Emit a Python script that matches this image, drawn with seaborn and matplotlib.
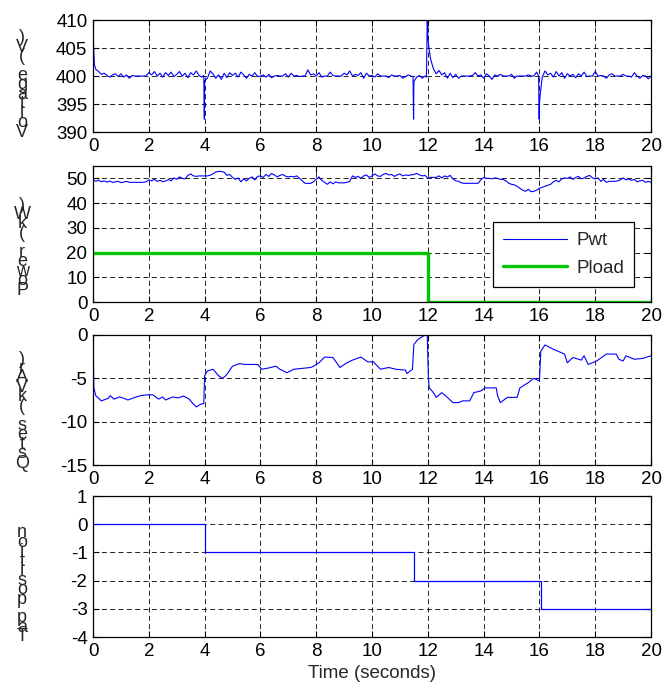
import numpy as np
import pandas as pd
import matplotlib
matplotlib.use('Agg')
import matplotlib.pyplot as plt
import seaborn as sns

# ---- data ----
time_grid = np.round(np.arange(0, 200.5, 1) / 10, 1)   # 0.0 .. 20.0 s, 0.1 s step

voltage = [
    410.0, 401.2, 400.8, 400.3, 400.5, 400.1, 399.8, 400.2, 400.4, 399.9,
    400.4, 399.8, 400.2, 399.6, 400.1, 400.0, 400.0, 400.0, 400.0, 400.0,
    400.6, 400.2, 400.8, 400.0, 400.5, 399.8, 400.6, 400.1, 400.7, 399.9,
    400.3, 400.8, 400.0, 400.5, 399.7, 400.6, 400.2, 400.9, 400.1, 399.8,
    399.2, 399.6, 400.9, 400.4, 399.6, 400.2, 399.4, 400.5, 399.7, 400.6,
    400.1, 400.5, 399.8, 400.7, 400.2, 399.6, 400.3, 400.0, 400.6, 399.9,
    400.0, 400.2, 399.8, 400.3, 399.7, 400.0, 400.1, 400.0, 400.0, 400.4,
    399.8, 400.5, 400.0, 400.1, 399.9, 400.0, 400.0, 401.1, 400.2, 400.4,
    400.0, 400.6, 399.8, 400.0, 400.0, 400.7, 400.1, 400.0, 400.0, 400.0,
    400.5, 400.2, 400.9, 400.0, 400.3, 400.1, 400.6, 399.6, 400.5, 400.0,
    400.1, 399.8, 400.4, 400.0, 400.0, 400.0, 399.7, 400.2, 400.0, 400.0,
    400.1, 399.6, 399.9, 400.2, 400.0, 399.0, 399.8, 400.1, 399.6, 400.0,
    407.0, 403.0, 401.3, 400.4, 401.0, 400.2, 400.6, 399.6, 400.5, 399.7,
    400.3, 399.6, 400.0, 400.0, 400.0, 400.0, 400.1, 400.6, 400.0, 400.2,
    399.6, 400.4, 400.0, 399.4, 400.2, 400.0, 400.3, 400.0, 400.0, 400.0,
    400.3, 399.6, 400.0, 400.0, 400.0, 400.0, 400.2, 400.0, 400.0, 400.7,
    395.0, 399.8, 400.9, 400.2, 400.5, 399.8, 400.8, 400.0, 400.6, 399.6,
    400.4, 400.0, 400.3, 399.7, 400.4, 400.0, 400.7, 399.9, 400.0, 400.0,
    400.8, 400.0, 400.1, 400.0, 399.6, 400.2, 400.4, 400.0, 400.0, 400.0,
    400.3, 400.0, 400.0, 399.8, 400.6, 400.0, 399.6, 400.1, 400.0, 399.5,
    400.0,
]
# fast transients between grid samples (tap changes / load step)
v_event_time = [0.02, 0.05, 3.97, 3.99, 11.47, 11.49, 11.95, 11.98, 12.04, 15.97, 15.99, 16.03]
v_event_volt = [405.5, 402.0, 400.1, 392.3, 399.9, 392.3, 399.8, 410.0, 405.0, 400.0, 392.3, 396.8]

pwt = [
    49.5, 48.8, 49.3, 48.6, 49.0, 48.5, 48.9, 48.4, 48.6, 48.8,
    48.3, 48.5, 48.8, 48.4, 48.4, 48.4, 48.4, 48.4, 48.4, 48.6,
    49.4, 49.0, 49.6, 48.8, 49.2, 48.7, 48.9, 49.5, 49.0, 50.2,
    49.6, 50.6, 50.0, 49.8, 51.2, 51.8, 51.0, 50.8, 51.0, 51.0,
    51.0, 51.0, 51.3, 51.8, 52.6, 52.8, 52.8, 52.5, 51.2, 51.6,
    50.4, 49.6, 50.2, 48.6, 49.8, 49.0, 50.0, 50.6, 49.4, 50.8,
    51.0, 50.4, 51.6, 50.8, 52.0, 51.4, 50.6, 51.2, 51.6, 50.9,
    50.6, 50.8, 50.6, 51.0, 50.0, 49.0, 48.0, 48.0, 48.0, 48.6,
    49.6, 50.6, 49.2, 48.4, 47.6, 48.6, 47.8, 48.6, 48.2, 48.2,
    48.2, 48.4, 48.8, 51.0, 50.4, 50.8, 50.0, 51.0, 51.4, 50.4,
    51.0, 51.8, 51.0, 50.8, 51.6, 52.0, 51.4, 51.6, 50.8, 51.4,
    51.8, 51.0, 51.4, 51.2, 51.4, 51.6, 52.0, 51.4, 51.0, 51.2,
    50.0, 50.4, 50.4, 50.4, 51.0, 50.2, 51.0, 50.6, 51.2, 49.8,
    49.0, 48.8, 48.2, 48.0, 48.0, 48.0, 48.0, 48.0, 48.0, 49.4,
    50.4, 50.0, 50.0, 49.8, 50.2, 50.0, 49.6, 49.6, 49.0, 48.0,
    47.6, 47.4, 46.8, 46.0, 45.2, 44.8, 45.6, 44.6, 44.8, 45.2,
    46.0, 46.4, 46.8, 47.2, 47.6, 48.6, 49.2, 48.6, 49.8, 50.2,
    50.0, 50.6, 49.6, 50.4, 50.8, 49.8, 50.2, 50.8, 51.2, 50.2,
    49.8, 50.2, 48.8, 49.6, 48.4, 48.8, 48.8, 48.8, 49.0, 49.4,
    50.2, 49.4, 49.8, 49.2, 49.6, 48.6, 49.0, 49.2, 48.4, 48.8,
    48.4,
]

pload_time = [0, 12, 20]
pload = [20, 0, 0]

q_time = [0.0, 0.03, 0.1, 0.3, 0.55, 0.62, 0.75, 0.95, 1.1, 1.25,
          1.5, 1.7, 1.95, 2.15, 2.35, 2.5, 2.6, 2.85, 3.05, 3.25,
          3.45, 3.55, 3.7, 3.85, 3.97, 4.0, 4.1, 4.3, 4.5, 4.65,
          4.8, 5.0, 5.25, 5.45, 5.9, 6.05, 6.3, 6.55, 6.7, 6.95,
          7.2, 7.8, 7.9, 8.1, 8.3, 8.6, 8.85, 9.1, 9.3, 9.6,
          9.85, 10.05, 10.3, 10.6, 10.85, 11.2, 11.25, 11.45, 11.5, 11.65,
          11.85, 11.98, 12.02, 12.05, 12.2, 12.3, 12.5, 12.7, 12.9, 13.1,
          13.25, 13.5, 13.65, 13.9, 14.05, 14.45, 14.5, 14.6, 14.85, 15.2,
          15.3, 15.6, 15.8, 16.0, 16.05, 16.2, 16.5, 16.9, 17.0, 17.2,
          17.5, 17.6, 17.75, 18.05, 18.4, 18.75, 18.85, 19.0, 19.1, 19.4,
          19.7, 20.0]
q_kvar = [0.0, -6.1, -7.0, -7.6, -7.3, -7.0, -7.4, -7.15, -7.3, -7.5,
          -7.2, -7.0, -6.9, -6.9, -7.4, -7.15, -7.5, -7.15, -7.25, -7.05,
          -7.4, -7.8, -8.3, -8.0, -7.9, -4.7, -4.15, -3.95, -4.7, -5.0,
          -4.55, -3.6, -3.3, -3.4, -3.4, -3.95, -3.8, -3.6, -3.95, -4.35,
          -3.95, -3.75, -3.6, -3.2, -2.55, -2.6, -3.75, -3.2, -2.9, -2.55,
          -3.1, -3.1, -3.95, -3.75, -3.95, -4.05, -4.45, -3.95, -1.1, -0.5,
          -0.1, 0.0, -4.9, -6.1, -6.65, -7.2, -6.65, -7.2, -7.8, -7.8,
          -7.6, -7.6, -6.65, -6.45, -6.1, -6.1, -7.0, -7.8, -7.2, -7.2,
          -6.1, -5.5, -5.0, -5.3, -1.85, -1.15, -1.65, -2.2, -3.2, -2.6,
          -2.9, -2.4, -3.4, -3.0, -2.2, -2.2, -2.8, -3.0, -2.4, -2.8,
          -2.7, -2.4]

tap_time = [0, 4, 11.5, 16.05, 20]
tap = [0, -1, -2, -3, -3]

ylabels = ['Voltage (V)', 'Power (kW)', 'Qstes (kVAr)', 'Tap position']

# ---- build frames ----
volt_df = pd.concat([
    pd.DataFrame({'t': time_grid, 'v': voltage}),
    pd.DataFrame({'t': v_event_time, 'v': v_event_volt}),
]).sort_values('t')

sns.set_theme(style='white')
plt.rcParams['font.family'] = ['Liberation Sans', 'DejaVu Sans']
plt.rcParams['axes.unicode_minus'] = False

fig = plt.figure(figsize=(6.72, 6.88), dpi=100)
left, width = 0.1384, 0.8304
rects = [
    [left, 0.8081, width, 0.1628],
    [left, 0.5610, width, 0.1977],
    [left, 0.3241, width, 0.1890],
    [left, 0.0741, width, 0.2049],
]
axes = [fig.add_axes(r) for r in rects]

blue = '#0000ff'
green = '#00c800'

sns.lineplot(data=volt_df, x='t', y='v', ax=axes[0], color=blue, lw=0.8,
             estimator=None, sort=False)
sns.lineplot(x=time_grid, y=pwt, ax=axes[1], color=blue, lw=0.8,
             estimator=None, label='Pwt')
sns.lineplot(x=pload_time, y=pload, ax=axes[1], color=green, lw=2.4,
             estimator=None, drawstyle='steps-post', label='Pload')
sns.lineplot(x=q_time, y=q_kvar, ax=axes[2], color=blue, lw=0.8,
             estimator=None)
sns.lineplot(x=tap_time, y=tap, ax=axes[3], color=blue, lw=0.9,
             estimator=None, drawstyle='steps-post')

ylims = [(390, 410), (0, 55), (-15, 0), (-4, 1)]
yticks = [np.arange(390, 411, 5), np.arange(0, 51, 10),
          np.arange(-15, 1, 5), np.arange(-4, 2, 1)]
label_y = [0.42, 0.40, 0.415, 0.37]

for ax, yl, yt, lab, ly in zip(axes, ylims, yticks, ylabels, label_y):
    ax.set_xlim(0, 20)
    ax.set_ylim(*yl)
    ax.set_xticks(np.arange(0, 21, 2))
    ax.set_yticks(yt)
    ax.grid(True, color='black', lw=0.6, ls=(0, (6, 4)))
    ax.tick_params(direction='in', length=4, width=0.8, labelsize=13.5,
                   top=True, right=True, bottom=True, left=True, pad=4,
                   colors='black')
    for s in ax.spines.values():
        s.set_color('black')
        s.set_linewidth(0.9)
    ax.set_xlabel('')
    ax.set_ylabel('')
    # characters stacked vertically, read bottom to top, as in the original export
    ax.text(-0.127, ly, '\n'.join(reversed(lab)), transform=ax.transAxes,
            ha='center', va='center', fontsize=13, linespacing=0.42)

leg = axes[1].legend(loc='lower right', bbox_to_anchor=(0.97, 0.11),
                     borderaxespad=0, fontsize=13.5, frameon=True,
                     fancybox=False, framealpha=1, edgecolor='black',
                     handlelength=3.4, handletextpad=0.5, borderpad=0.55,
                     labelspacing=0.55)
leg.get_frame().set_linewidth(0.9)

axes[3].set_xlabel('Time (seconds)', fontsize=13.5, labelpad=4)

fig.savefig('out.png', dpi=100)
